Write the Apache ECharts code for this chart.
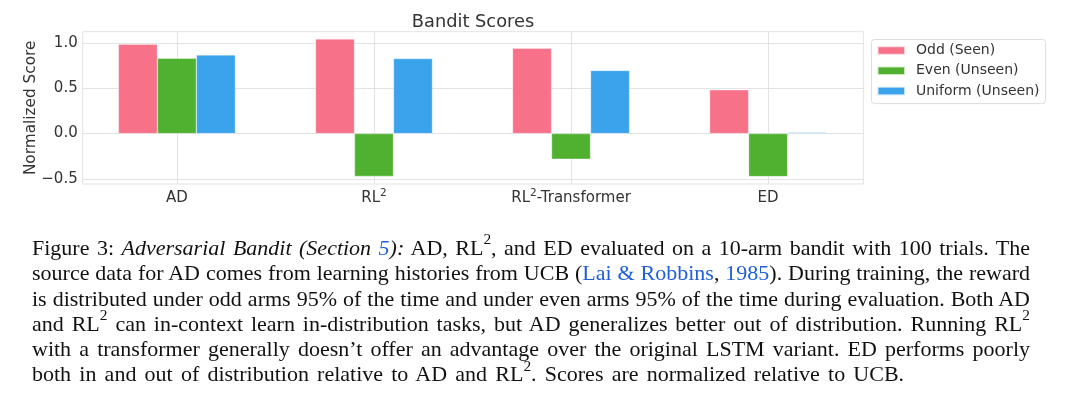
<!DOCTYPE html>
<html>
<head>
<meta charset="utf-8">
<script src="https://cdn.jsdelivr.net/npm/echarts@6/dist/echarts.min.js"></script>
<style>
  html, body { margin: 0; padding: 0; background: #fff; }
  #wrap { position: relative; width: 1080px; height: 397px; overflow: hidden; }
  #chart { position: absolute; left: 0; top: 0; width: 1080px; height: 397px; }
  #caption { position: absolute; left: 32px; top: 235px; width: 998px;
    font-family: 'Liberation Serif', 'Times New Roman', serif; font-size: 22px;
    line-height: 25.3px; color: #111; }
  #caption .ln { white-space: nowrap; text-align: justify; text-align-last: justify; height: 25.3px; }
  #caption .ln.last { text-align-last: left; word-spacing: 2.7px; }
  #caption sup { font-size: 0.7em; line-height: 0; position: relative; top: -0.15em; }
  #caption .l { color: #1f5fd9; }
</style>
</head>
<body>
<div id="wrap">
  <div id="chart"></div>
  <div id="caption">
    <div class="ln">Figure 3: <i>Adversarial Bandit (Section <span class="l">5</span>):</i> AD, RL<sup>2</sup>, and ED evaluated on a 10-arm bandit with 100 trials. The</div>
    <div class="ln">source data for AD comes from learning histories from UCB (<span class="l">Lai &amp; Robbins</span>, <span class="l">1985</span>). During training, the reward</div>
    <div class="ln">is distributed under odd arms 95% of the time and under even arms 95% of the time during evaluation. Both AD</div>
    <div class="ln">and RL<sup>2</sup> can in-context learn in-distribution tasks, but AD generalizes better out of distribution. Running RL<sup>2</sup></div>
    <div class="ln">with a transformer generally doesn’t offer an advantage over the original LSTM variant. ED performs poorly</div>
    <div class="ln last">both in and out of distribution relative to AD and RL<sup>2</sup>. Scores are normalized relative to UCB.</div>
  </div>
</div>
<script>
// ---- data ----
const categories = ['AD', 'RL²', 'RL²-Transformer', 'ED'];
const seriesNames = ['Odd (Seen)', 'Even (Unseen)', 'Uniform (Unseen)'];
const oddSeen = [0.99, 1.048, 0.945, 0.485];
const evenUnseen = [0.834, -0.474, -0.283, -0.476];
const uniformUnseen = [0.871, 0.831, 0.699, 0.012];
const yTicks = [-0.5, 0.0, 0.5, 1.0];
const colors = ['#f77189', '#50b131', '#3ba3ec'];

const font = 'DejaVu Sans';
const textColor = '#333333';
const gridColor = '#e3e3e3';

const catIdx = categories.map((_, i) => i);
function toPairs(vals) { return vals.map((v, i) => [i, v]); }
function richLabel(name) {
  return name.split('²').map(p => p ? '{n|' + p + '}' : '').join('{s|2}');
}
const allSeries = [oddSeen, evenUnseen, uniformUnseen].map((vals, k) => ({
  name: seriesNames[k],
  type: 'bar',
  data: toPairs(vals),
  barWidth: 39,
  barGap: '0%',
  itemStyle: { color: colors[k], borderColor: 'rgba(255,255,255,0.7)', borderWidth: 0.5 },
  emphasis: { disabled: true }
}));

const chart = echarts.init(document.getElementById('chart'), null, { renderer: 'canvas' });
chart.setOption({
  animation: false,
  backgroundColor: '#ffffff',
  title: {
    text: 'Bandit Scores', left: 468, top: 8, textAlign: 'center',
    textStyle: { fontFamily: font, fontSize: 17.8, fontWeight: 'normal', color: textColor }
  },
  legend: {
    orient: 'vertical', left: 871.5, top: 39.5,
    data: seriesNames,
    icon: 'rect', itemWidth: 27.5, itemHeight: 8.5, itemGap: 5.3,
    padding: [3.5, 6, 5, 5],
    borderColor: '#dddddd', borderWidth: 1, borderRadius: 3,
    textStyle: { fontFamily: font, fontSize: 14, color: textColor, lineHeight: 15, padding: [0, 0, 0, 6] }
  },
  grid: {
    left: 82.7, right: 1080 - 863.3, top: 31.7, bottom: 397 - 184,
    show: true, borderColor: gridColor, borderWidth: 1, containLabel: false
  },
  xAxis: {
    type: 'value', min: -0.478, max: 3.483,
    axisLine: { show: false }, axisTick: { show: false, customValues: catIdx },
    splitLine: { show: true, lineStyle: { color: gridColor, width: 1 } },
    axisLabel: {
      customValues: catIdx, margin: 4,
      fontFamily: font, fontSize: 15, color: textColor,
      formatter: v => richLabel(categories[Math.round(v)]),
      rich: {
        n: { fontFamily: font, fontSize: 15, color: textColor, lineHeight: 18, verticalAlign: 'bottom' },
        s: { fontFamily: font, fontSize: 10.5, color: textColor, lineHeight: 18, verticalAlign: 'top' }
      }
    }
  },
  yAxis: {
    type: 'value', min: -0.558, max: 1.128,
    name: 'Normalized Score', nameLocation: 'middle', nameRotate: 90, nameGap: 44,
    nameMoveOverlap: false,
    nameTextStyle: { fontFamily: font, fontSize: 15.3, color: textColor },
    axisLine: { show: false }, axisTick: { show: false, customValues: yTicks },
    splitLine: { show: true, lineStyle: { color: gridColor, width: 1 } },
    axisLabel: {
      customValues: yTicks, margin: 5,
      fontFamily: font, fontSize: 15, color: textColor,
      formatter: v => v.toFixed(1).replace('-', '\u2212')
    }
  },
  series: allSeries
});
</script>
</body>
</html>
